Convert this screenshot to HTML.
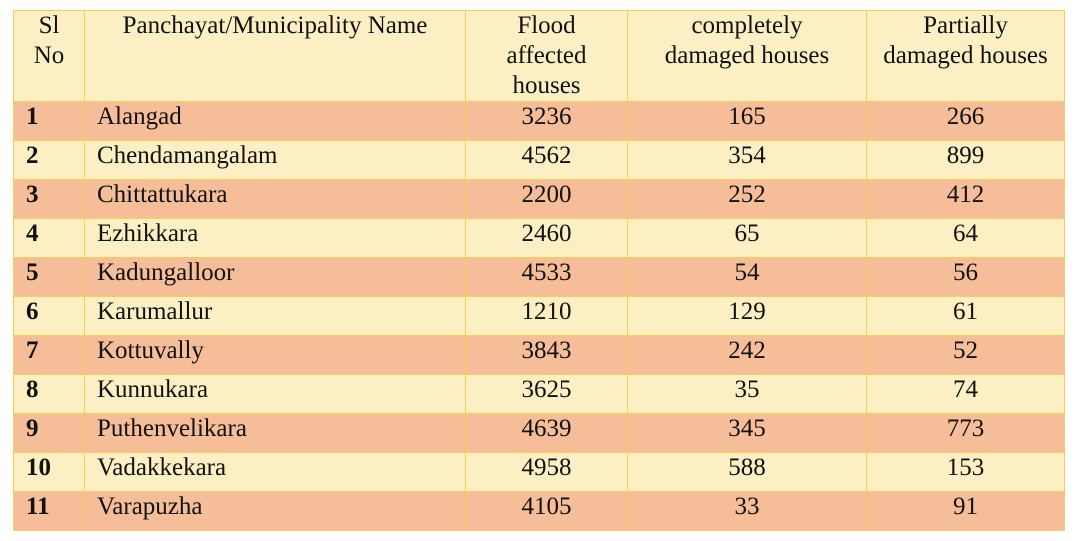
<!DOCTYPE html>
<html><head><meta charset="utf-8"><style>
body{margin:0;background:#fff;width:1077px;height:541px;overflow:hidden}
table{position:absolute;left:13px;top:10px;border-collapse:collapse;font-family:"Liberation Serif",serif;font-size:25px;color:#111;table-layout:fixed}
td{border:1.5px solid #f6cf52;vertical-align:top;padding:0;line-height:29px;height:38px;overflow:hidden;white-space:nowrap}
thead td{background:#fdefc4;text-align:center;height:88px;line-height:30px;padding-top:0}
td.n{font-weight:bold;padding-left:12px}
td.nm{padding-left:12px}
td.c{text-align:center}
tr.o td{background:#f5bd98}
tr.l td{background:#fdefc4}
</style></head><body>
<table>
<colgroup><col style="width:71px"><col style="width:381px"><col style="width:162px"><col style="width:239px"><col style="width:198px"></colgroup>
<thead><tr>
<td>Sl<br>No</td>
<td>Panchayat/Municipality Name</td>
<td>Flood<br>affected<br>houses</td>
<td>completely<br>damaged houses</td>
<td>Partially<br>damaged houses</td>
</tr></thead>
<tbody>
<tr class="o"><td class="n">1</td><td class="nm">Alangad</td><td class="c">3236</td><td class="c">165</td><td class="c">266</td></tr>
<tr class="l"><td class="n">2</td><td class="nm">Chendamangalam</td><td class="c">4562</td><td class="c">354</td><td class="c">899</td></tr>
<tr class="o"><td class="n">3</td><td class="nm">Chittattukara</td><td class="c">2200</td><td class="c">252</td><td class="c">412</td></tr>
<tr class="l"><td class="n">4</td><td class="nm">Ezhikkara</td><td class="c">2460</td><td class="c">65</td><td class="c">64</td></tr>
<tr class="o"><td class="n">5</td><td class="nm">Kadungalloor</td><td class="c">4533</td><td class="c">54</td><td class="c">56</td></tr>
<tr class="l"><td class="n">6</td><td class="nm">Karumallur</td><td class="c">1210</td><td class="c">129</td><td class="c">61</td></tr>
<tr class="o"><td class="n">7</td><td class="nm">Kottuvally</td><td class="c">3843</td><td class="c">242</td><td class="c">52</td></tr>
<tr class="l"><td class="n">8</td><td class="nm">Kunnukara</td><td class="c">3625</td><td class="c">35</td><td class="c">74</td></tr>
<tr class="o"><td class="n">9</td><td class="nm">Puthenvelikara</td><td class="c">4639</td><td class="c">345</td><td class="c">773</td></tr>
<tr class="l"><td class="n">10</td><td class="nm">Vadakkekara</td><td class="c">4958</td><td class="c">588</td><td class="c">153</td></tr>
<tr class="o"><td class="n">11</td><td class="nm">Varapuzha</td><td class="c">4105</td><td class="c">33</td><td class="c">91</td></tr>
</tbody></table>
</body></html>
